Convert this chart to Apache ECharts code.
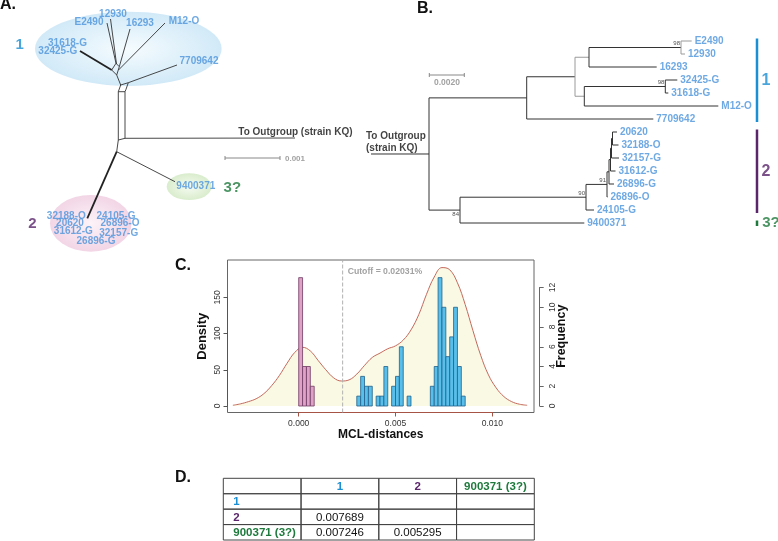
<!DOCTYPE html>
<html><head><meta charset="utf-8">
<script src="https://cdn.jsdelivr.net/npm/echarts@6.0.0/dist/echarts.min.js"></script>
<style>html,body{margin:0;padding:0;background:#fff;}#chart{width:778px;height:541px;}</style>
</head><body><div id="chart"></div>
<script>
// ================= DATA =================
// Panel C: histogram of pairwise MCL distances (frequency) + density
const binWidth = 0.0002;
const cluster2BinStart = 0.0000;
const cluster2Freq = [13, 4, 4, 2];
const otherBinStart = 0.0030;
const otherFreq = [1,3,2,2,0,1,1,4,0,2,3,6,0,1,0,0,0,0,0,2,4,13,10,5,7,10,4,1];
const densityX = [-0.0034,-0.0030,-0.0026,-0.0022,-0.0018,-0.0014,-0.0010,-0.0006,-0.0002,0.0002,0.0006,0.0010,0.0014,0.0018,0.0022,0.0026,0.0030,0.0034,0.0038,0.0042,0.0046,0.0050,0.0054,0.0058,0.0062,0.0066,0.0070,0.0074,0.0078,0.0082,0.0086,0.0090,0.0094,0.0098,0.0102,0.0106,0.0110,0.0114,0.0118];
const densityY = [1,3,6,10,17,28,42,59,74,81,76,63,50,39,34.5,36,44,56,67,73,79,83,91,105,126,154,178,191,188,170,140,104,70,43,25,13,6,2.5,1];
const cutoffValue = 0.00227;
const cutoffText = 'Cutoff = 0.02031%';
const xTickValues = [0.000, 0.005, 0.010];
const densityTicks = [0, 50, 100, 150];
const freqTicks = [0, 2, 4, 6, 8, 10, 12];

// Panel D: distances between groups
const tableGroups = ['1', '2', '900371 (3?)'];
const tableValues = [
  [null, null, null],
  [0.007689, null, null],
  [0.007246, 0.005295, null]
];

// Panel B: phylogram (x = node depth in diagram units, leaves ordered top to bottom)
const treeB = {x: 429, children: [
  {x: 526.7, children: [
    {x: 575, gray: true, children: [
      {x: 589, children: [
        {x: 681, gray: true, support: '98', children: [{leaf: 'E2490', x: 691.7}, {leaf: '12930', x: 685}]},
        {leaf: '16293', x: 656.7}]},
      {x: 584.3, children: [
        {x: 665.3, support: '98', children: [{leaf: '32425-G', x: 677.3}, {leaf: '31618-G', x: 668.3}]},
        {leaf: 'M12-O', x: 718.3}]}]},
    {leaf: '7709642', x: 653.3}]},
  {x: 460, support: '84', supportBelow: true, children: [
    {x: 586, support: '90', children: [
      {x: 607, support: '91', children: [
        {x: 609, children: [
          {x: 610.5, children: [
            {x: 611.5, children: [
              {x: 612.5, children: [{leaf: '20620', x: 617}, {leaf: '32188-O', x: 618.5}]},
              {leaf: '32157-G', x: 619}]},
            {leaf: '31612-G', x: 615.5}]},
          {leaf: '26896-G', x: 614}]},
        {leaf: '26896-O', x: 607.5}]},
      {leaf: '24105-G', x: 594}]},
    {leaf: '9400371', x: 584.3}]}
]};
const treeBGroups = [
  {g: '1', from: 'E2490', to: '7709642'},
  {g: '2', from: '20620', to: '24105-G'},
  {g: '3?', from: '9400371', to: '9400371'}
];

// Panel A: split network (taxon label positions & edges in diagram units)
const netTaxa = ['12930','E2490','16293','M12-O','31618-G','32425-G','7709642','9400371','32188-O','20620','31612-G','26896-G','24105-G','26896-O','32157-G'];
const netTaxaPos = [[113,14.7],[89,22.5],[140,23],[184,20.8],[67.5,42.8],[57.8,51],[199,60.8],[195.8,185.8],[66.3,215.8],[70,223.3],[73.3,231.2],[96,241.7],[116,215.8],[120,223.3],[118.7,233]];
const netEdges = [
  {pts: [[80,51],[111.7,70]], thick: true},
  {pts: [[111.7,70],[116,63.3],[119.3,66.7],[116.7,75],[111.7,70]]},
  {pts: [[116,63.3],[107,23]]},
  {pts: [[116.5,64],[110.5,19]]},
  {pts: [[119.3,66.7],[130,29]]},
  {pts: [[118.5,70],[165,23]]},
  {pts: [[116.7,75],[120.7,85],[118.3,91.7]]},
  {pts: [[120.7,85],[128.3,82.7],[126,89.3],[125,91.7],[118.3,91.7]]},
  {pts: [[128.3,82.7],[177,65]]},
  {pts: [[118.3,91.7],[118.3,140],[125,138.3],[125,91.7]]},
  {pts: [[125,138.3],[295,138]]},
  {pts: [[118.3,140],[116.7,151.7]]},
  {pts: [[116.7,151.7],[175,181.7]]},
  {pts: [[116.7,151.7],[87.3,218.3]], thick: true}
];
const netGroups = [
  {g: '1', center: [128.3,48.8], size: [186.7,74.3], labelPos: [19.7,45]},
  {g: '2', center: [90.8,223.3], size: [81.7,56.7], labelPos: [32.5,224]},
  {g: '3?', center: [189.2,186.7], size: [45,26.7], labelPos: [232.3,187.5]}
];

// ================= STYLE =================
const FONT = 'Liberation Sans, Arial, Helvetica, sans-serif';
const LEAF_BLUE = '#4b93dc';
const GRP_COLOR = {'1': '#1a8fd3', '2': '#5a256b', '3?': '#1e7a3c'};
function grpColor(g) { return g === '1' ? GRP_COLOR['1'] : g === '2' ? GRP_COLOR['2'] : GRP_COLOR['3?']; }
const ELLIPSE_GRAD = {
  '1': ['#f3fbfe', '#c6e4f6'],
  '2': ['#fcf0f6', '#efcbe0'],
  '3?': ['#f4faef', '#d0e8c0']
};

// ================= BUILD DIAGRAM ELEMENTS =================
const texts = [];
function addText(text, pos, o) {
  texts.push({value: pos, label: Object.assign({show: true, formatter: text, position: 'inside', color: LEAF_BLUE,
    fontSize: 10, fontWeight: 'bold', fontFamily: FONT}, o || {})});
}
const segs = [];
function addSeg(pts, o) {
  segs.push({coords: pts, lineStyle: Object.assign({color: '#333', width: 1, opacity: 1}, o || {})});
}

// Panel A
netEdges.forEach(e => addSeg(e.pts, e.thick ? {width: 1.8, color: '#222'} : {width: 0.9, color: '#333'}));
netTaxa.forEach((t, i) => addText(t, netTaxaPos[i]));
const ellipses = netGroups.map(gr => ({
  value: gr.center, symbolSize: gr.size,
  itemStyle: {color: {type: 'radial', x: 0.5, y: 0.5, r: 0.5, colorStops: [
    {offset: 0, color: ELLIPSE_GRAD[gr.g][0]}, {offset: 1, color: ELLIPSE_GRAD[gr.g][1]}]}}
}));
netGroups.forEach(gr => addText(gr.g, gr.labelPos, {color: GRP_COLOR[gr.g], fontSize: 15}));
addText('To Outgroup (strain KQ)', [238.3, 132], {position: 'right', distance: 0, color: '#111'});
addSeg([[225,158],[280,158]], {color: '#888', width: 1});
addSeg([[225,156],[225,160]], {color: '#888', width: 1});
addSeg([[280,156],[280,160]], {color: '#888', width: 1});
addText('0.001', [285, 158.3], {position: 'right', distance: 0, color: '#8a8a8a', fontSize: 8});

// Panel B
const leafTop = 41, leafStep = 13;
let leafIdx = 0;
const leafY = {};
function layout(n) {
  if (n.leaf) { n.y = leafTop + leafStep * leafIdx++; leafY[n.leaf] = n.y; return n.y; }
  const ys = n.children.map(layout);
  n.y = (ys[0] + ys[ys.length - 1]) / 2;
  return n.y;
}
layout(treeB);
function drawTree(n) {
  if (n.leaf) {
    addText(n.leaf, [n.x + 3, n.y], {position: 'right', distance: 0});
    return;
  }
  const col = n.gray ? '#9a9a9a' : '#333';
  addSeg([[n.x, n.children[0].y], [n.x, n.children[n.children.length - 1].y]], {color: col});
  n.children.forEach(c => { addSeg([[n.x, c.y], [c.x, c.y]], {color: col}); drawTree(c); });
  if (n.support) addText(n.support, [n.x - 1, n.y + (n.supportBelow ? 4.5 : -4)], {position: 'left', distance: 0, color: '#222', fontSize: 6, fontWeight: 'normal'});
}
addSeg([[371, treeB.y], [treeB.x, treeB.y]]);
drawTree(treeB);
addText('To Outgroup', [366, 136.5], {position: 'right', distance: 0, color: '#111'});
addText('(strain KQ)', [366, 148], {position: 'right', distance: 0, color: '#111'});
addSeg([[429.3,75],[464.3,75]], {color: '#888'});
addSeg([[429.3,73],[429.3,77]], {color: '#888'});
addSeg([[464.3,73],[464.3,77]], {color: '#888'});
addText('0.0020', [447, 82.5], {color: '#8a8a8a', fontSize: 8.5});
treeBGroups.forEach(gr => {
  const y0 = leafY[gr.from] - 2.5, y1 = leafY[gr.to] + 3;
  addSeg([[757, y0], [757, y1]], {color: GRP_COLOR[gr.g], width: 2.5});
  addText(gr.g, [gr.g === '3?' ? 771 : 766, (y0 + y1) / 2], {color: GRP_COLOR[gr.g], fontSize: gr.g === '3?' ? 15 : 16});
});

// Panel C histogram bars
const histBars = [];
cluster2Freq.forEach((n, i) => { if (n > 0) histBars.push({x0: cluster2BinStart + i * binWidth, x1: cluster2BinStart + (i + 1) * binWidth, n: n, fill: '#dfa2c6', stroke: '#6f3a62'}); });
otherFreq.forEach((n, i) => { if (n > 0) histBars.push({x0: otherBinStart + i * binWidth, x1: otherBinStart + (i + 1) * binWidth, n: n, fill: '#58bfea', stroke: '#22608a'}); });

// Panel D cells
const tableCols = [''].concat(tableGroups);
const tableRowCats = ['header'].concat(tableGroups);
const tableCells = [];
tableCols.forEach((c, ci) => tableCells.push({c: ci, r: 0, text: c, kind: 'hdr'}));
tableGroups.forEach((g, ri) => {
  tableCells.push({c: 0, r: ri + 1, text: g, kind: 'row'});
  tableValues[ri].forEach((v, vi) => tableCells.push({c: vi + 1, r: ri + 1, text: v == null ? '' : v.toFixed(6), kind: 'val'}));
});

// ================= OPTION =================
const chart = echarts.init(document.getElementById('chart'));
const hidden = {show: false};
const letter = (t, l, tp) => ({text: t, left: l, top: tp, padding: 0, textStyle: {fontSize: 16, fontWeight: 'bold', color: '#111', fontFamily: FONT}});
const OB = {outerBoundsMode: 'none', containLabel: false};
const DENS_MIN = -8.97, DENS_MAX = 201.47;
const option = {
  animation: false,
  backgroundColor: '#fff',
  textStyle: {fontFamily: FONT},
  title: [letter('A.', 0, -3), letter('B.', 417, 1), letter('C.', 175, 258), letter('D.', 175, 470)],
  grid: [
    Object.assign({left: 0, top: 0, width: 778, height: 541}, OB),
    Object.assign({left: 227.5, top: 260, width: 306.5, height: 152.5, show: true, borderColor: '#666', borderWidth: 1, backgroundColor: 'transparent'}, OB),
    Object.assign({left: 298.7, top: 260, width: 193.6, height: 152.5}, OB),
    Object.assign({left: 227.5, top: 297.3, width: 1, height: 108.7}, OB),
    Object.assign({left: 539.7, top: 287.5, width: 1, height: 118.5}, OB),
    Object.assign({left: 223.3, top: 478.3, width: 311, height: 61.7}, OB)
  ],
  xAxis: [
    {gridIndex: 0, type: 'value', min: 0, max: 778, show: false},
    {gridIndex: 1, type: 'value', min: -0.003678, max: 0.012154, axisLine: hidden, axisTick: hidden, axisLabel: hidden, splitLine: hidden,
      name: 'MCL-distances', nameLocation: 'middle', nameGap: 16, nameTextStyle: {fontSize: 12, fontWeight: 'bold', color: '#111'}},
    {gridIndex: 2, type: 'value', min: xTickValues[0], max: xTickValues[xTickValues.length - 1], interval: xTickValues[1] - xTickValues[0],
      axisLine: {lineStyle: {color: '#a65244', width: 1}}, axisTick: {inside: false, length: 4, lineStyle: {color: '#a65244'}},
      axisLabel: {margin: 7, fontSize: 8.5, color: '#333', showMinLabel: true, showMaxLabel: true, formatter: v => v.toFixed(3)}, splitLine: hidden},
    {gridIndex: 3, type: 'value', show: false},
    {gridIndex: 4, type: 'value', show: false},
    {gridIndex: 5, type: 'category', data: tableCols, show: false}
  ],
  yAxis: [
    {gridIndex: 0, type: 'value', min: 0, max: 541, inverse: true, show: false},
    {gridIndex: 1, type: 'value', min: DENS_MIN, max: DENS_MAX, axisLine: hidden, axisTick: hidden, axisLabel: hidden, splitLine: hidden,
      name: 'Density', nameLocation: 'middle', nameGap: 19, nameRotate: 90, nameTextStyle: {fontSize: 13, fontWeight: 'bold', color: '#111'}},
    {gridIndex: 1, type: 'value', position: 'right', min: -0.658, max: 14.785, axisLine: hidden, axisTick: hidden, axisLabel: hidden, splitLine: hidden,
      name: 'Frequency', nameLocation: 'middle', nameGap: 21, nameRotate: 90, nameTextStyle: {fontSize: 12.5, fontWeight: 'bold', color: '#111'}},
    {gridIndex: 2, type: 'value', show: false},
    {gridIndex: 3, type: 'value', position: 'left', min: densityTicks[0], max: densityTicks[densityTicks.length - 1], interval: densityTicks[1] - densityTicks[0],
      axisLine: {show: true, lineStyle: {color: '#555'}}, axisTick: {show: true, inside: false, length: 4, lineStyle: {color: '#555'}},
      axisLabel: {rotate: 90, margin: 5, fontSize: 8.5, color: '#333', align: 'center', verticalAlign: 'bottom', showMinLabel: true, showMaxLabel: true}, splitLine: hidden},
    {gridIndex: 4, type: 'value', position: 'right', min: freqTicks[0], max: freqTicks[freqTicks.length - 1], interval: freqTicks[1] - freqTicks[0],
      axisLine: {show: true, lineStyle: {color: '#666'}}, axisTick: {show: true, inside: false, length: 4, lineStyle: {color: '#666'}},
      axisLabel: {rotate: 90, margin: 7, fontSize: 8.5, color: '#333', align: 'center', verticalAlign: 'top', showMinLabel: true, showMaxLabel: true}, splitLine: hidden},
    {gridIndex: 5, type: 'category', data: tableRowCats, inverse: true, show: false}
  ],
  series: [
    {type: 'scatter', xAxisIndex: 0, yAxisIndex: 0, silent: true, symbol: 'circle', z: 1, data: ellipses},
    {type: 'lines', coordinateSystem: 'cartesian2d', xAxisIndex: 0, yAxisIndex: 0, polyline: true, silent: true, z: 2,
      lineStyle: {opacity: 1}, data: segs},
    {type: 'scatter', xAxisIndex: 0, yAxisIndex: 0, silent: true, symbolSize: 0, z: 3, itemStyle: {color: 'transparent'}, data: texts},
    {type: 'line', xAxisIndex: 1, yAxisIndex: 1, smooth: 0.4, showSymbol: false, silent: true, z: 1,
      data: densityX.map((x, i) => [x, densityY[i]]),
      lineStyle: {color: '#c4685c', width: 1}, areaStyle: {color: '#fafae4', opacity: 1}},
    {type: 'line', xAxisIndex: 1, yAxisIndex: 1, showSymbol: false, silent: true, z: 2,
      data: [[cutoffValue, DENS_MIN], [cutoffValue, DENS_MAX]],
      lineStyle: {type: 'dashed', color: '#b0b0b0', width: 1}},
    {type: 'custom', xAxisIndex: 1, yAxisIndex: 2, silent: true, z: 3,
      data: histBars.map(b => [b.x0, b.x1, b.n]), encode: {x: [0, 1], y: 2},
      renderItem: (params, api) => {
        const b = histBars[params.dataIndex];
        const p0 = api.coord([b.x0, 0]);
        const p1 = api.coord([b.x1, b.n]);
        return {type: 'rect', shape: {x: p0[0], y: p1[1], width: p1[0] - p0[0], height: p0[1] - p1[1]},
          style: {fill: b.fill, stroke: b.stroke, lineWidth: 0.8}};
      }},
    {type: 'scatter', xAxisIndex: 1, yAxisIndex: 1, silent: true, symbolSize: 0, z: 4, itemStyle: {color: 'transparent'},
      data: [[cutoffValue, 186]],
      label: {show: true, position: 'right', distance: 5, formatter: cutoffText, color: '#8a8a8a', fontSize: 8.7, fontWeight: 'bold', fontFamily: FONT}},
    {type: 'custom', xAxisIndex: 5, yAxisIndex: 6, silent: true, z: 2,
      data: tableCells.map(d => [d.c, d.r]),
      renderItem: (params, api) => {
        const d = tableCells[params.dataIndex];
        const pt = api.coord([d.c, d.r]);
        const sz = api.size([1, 1]);
        const x0 = pt[0] - sz[0] / 2, y0 = pt[1] - sz[1] / 2;
        let fill = '#111', weight = 'normal', size = 11.5, align = 'center', tx = pt[0];
        if (d.kind === 'hdr' || d.kind === 'row') { fill = grpColor(d.text); weight = 'bold'; }
        if (d.kind === 'row') { align = 'left'; tx = x0 + 10; }
        return {type: 'group', children: [
          {type: 'rect', shape: {x: x0, y: y0, width: sz[0], height: sz[1]}, style: {fill: 'none', stroke: '#444', lineWidth: 1}},
          {type: 'text', x: tx, y: pt[1] + 0.5, style: {text: d.text, fill: fill, font: weight + ' ' + size + 'px ' + FONT,
            align: align, textAlign: align, verticalAlign: 'middle', textVerticalAlign: 'middle'}}
        ]};
      }}
  ]
};
chart.setOption(option);
</script></body></html>
